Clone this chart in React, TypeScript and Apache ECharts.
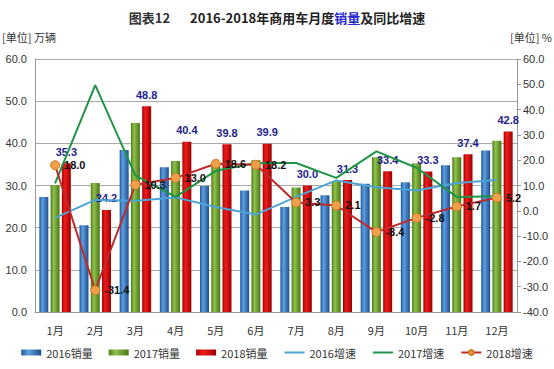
import React, { useEffect, useRef } from "react";
import * as echarts from "echarts";

const months = ["1月", "2月", "3月", "4月", "5月", "6月", "7月", "8月", "9月", "10月", "11月", "12月"];
const sales2016 = [27.3, 20.6, 38.4, 34.3, 29.9, 28.8, 24.9, 27.7, 30.4, 30.8, 34.8, 38.3];
const sales2017 = [30.1, 30.6, 44.8, 35.8, 34.8, 36.0, 29.5, 31.0, 36.7, 35.3, 36.7, 40.6];
const sales2018 = [35.3, 24.2, 48.8, 40.4, 39.8, 39.9, 30.0, 31.3, 33.4, 33.3, 37.4, 42.8];
const growth2016 = [-2.8, 4.3, 4.0, 5.3, 1.5, -1.5, 5.5, 12.0, 9.3, 8.0, 11.0, 12.2];
const growth2017 = [10.8, 49.7, 14.0, 5.5, 15.8, 18.9, 18.9, 13.0, 23.5, 17.0, 5.5, 5.8];
const growth2018 = [18.0, -31.4, 10.3, 13.0, 18.6, 18.2, 3.3, 2.1, -8.4, -2.8, 1.7, 5.2];
const leftTicks = { min: 0, max: 60, interval: 10 };
const rightTicks = { min: -40, max: 60, interval: 10 };

const FONT = "'Liberation Sans', 'Noto Sans CJK SC', sans-serif";
const CJK = "'Noto Sans CJK SC', sans-serif";

function grad(dark: string, light: string, edge: string) {
  return new echarts.graphic.LinearGradient(0, 0, 1, 0, [
    { offset: 0, color: dark },
    { offset: 0.35, color: light },
    { offset: 1, color: edge },
  ]);
}

export default function App() {
  const ref = useRef<HTMLDivElement>(null);
  useEffect(() => {
    if (!ref.current) return;
    const chart = echarts.init(ref.current, null, { renderer: "svg" });
    const barBase = { type: "bar" as const, barWidth: 9, barGap: "25%", yAxisIndex: 0 };
    chart.setOption({
      animation: false,
      backgroundColor: "#ffffff",
      textStyle: { fontFamily: FONT },
      title: {
        left: "center",
        top: 3,
        text: "{a|图表12}    {b|2016-2018年商用车月度}{c|销量}{b|及同比增速}",
        textStyle: {
          rich: {
            a: { fontSize: 13, color: "#333", fontFamily: CJK },
            b: { fontSize: 13, fontWeight: "bold", color: "#222", fontFamily: CJK },
            c: { fontSize: 13, fontWeight: "bold", color: "#2a2ad0", fontFamily: CJK },
          },
        },
      },
      graphic: [
        { type: "text", left: 2, top: 31, style: { text: "[单位] 万辆", fontSize: 11, fill: "#333", fontFamily: CJK } },
        { type: "text", right: 2, top: 31, style: { text: "[单位] %", fontSize: 11, fill: "#333", fontFamily: CJK } },
      ],
      legend: {
        bottom: 6,
        left: "center",
        itemGap: 16,
        itemWidth: 20,
        itemHeight: 6,
        textStyle: { fontSize: 11, color: "#333", fontFamily: CJK },
        data: [
          { name: "2016销量", icon: "rect" },
          { name: "2017销量", icon: "rect" },
          { name: "2018销量", icon: "rect" },
          { name: "2016增速", itemStyle: { opacity: 0 } },
          { name: "2017增速", itemStyle: { opacity: 0 } },
          { name: "2018增速" },
        ],
      },
      grid: { left: 35, right: 37, top: 59, bottom: 57 },
      xAxis: {
        type: "category",
        data: months,
        axisLine: { lineStyle: { color: "#999" } },
        axisTick: { show: false },
        axisLabel: { color: "#333", fontSize: 11, margin: 12, fontFamily: CJK },
      },
      yAxis: [
        {
          type: "value",
          ...leftTicks,
          axisLine: { show: true, lineStyle: { color: "#999" } },
          axisTick: { show: false },
          axisLabel: { color: "#333", fontSize: 11, margin: 8, formatter: (v: number) => v.toFixed(1) },
          splitLine: { lineStyle: { color: "#aaa" } },
        },
        {
          type: "value",
          ...rightTicks,
          axisLine: { show: true, lineStyle: { color: "#999" } },
          axisTick: { show: true, length: 4, lineStyle: { color: "#999" } },
          axisLabel: { color: "#333", fontSize: 11, margin: 6, formatter: (v: number) => v.toFixed(1) },
          splitLine: { show: false },
        },
      ],
      series: [
        { ...barBase, name: "2016销量", data: sales2016, itemStyle: { color: grad("#1f5a9e", "#5f9ee0", "#1c4f8c") } },
        { ...barBase, name: "2017销量", data: sales2017, itemStyle: { color: grad("#4f7d1c", "#8fc24a", "#4a7418") } },
        {
          ...barBase,
          name: "2018销量",
          data: sales2018,
          itemStyle: { color: grad("#a80000", "#f01c1c", "#9a0000") },
          label: {
            show: true,
            position: "top",
            distance: 6,
            color: "#1e1e8c",
            fontWeight: "bold",
            fontSize: 11,
            formatter: (p: any) => Number(p.value).toFixed(1),
          },
        },
        {
          name: "2016增速",
          type: "line",
          yAxisIndex: 1,
          data: growth2016,
          symbol: "none",
          lineStyle: { color: "#4ea3d6", width: 2 },
          itemStyle: { color: "#4ea3d6" },
        },
        {
          name: "2017增速",
          type: "line",
          yAxisIndex: 1,
          data: growth2017,
          symbol: "none",
          lineStyle: { color: "#1f9447", width: 2 },
          itemStyle: { color: "#1f9447" },
        },
        {
          name: "2018增速",
          type: "line",
          yAxisIndex: 1,
          data: growth2018,
          symbol: "circle",
          symbolSize: 9,
          lineStyle: { color: "#c0282a", width: 2 },
          itemStyle: { color: "#f0a048", borderColor: "#d07a20", borderWidth: 1 },
          label: {
            show: true,
            position: "right",
            distance: 4,
            color: "#111",
            fontWeight: "bold",
            fontSize: 11,
            formatter: (p: any) => Number(p.value).toFixed(1),
          },
          z: 5,
        },
      ],
    });
    return () => chart.dispose();
  }, []);
  return <div ref={ref} style={{ width: 554, height: 369, position: "absolute", left: 0, top: 0 }} />;
}
